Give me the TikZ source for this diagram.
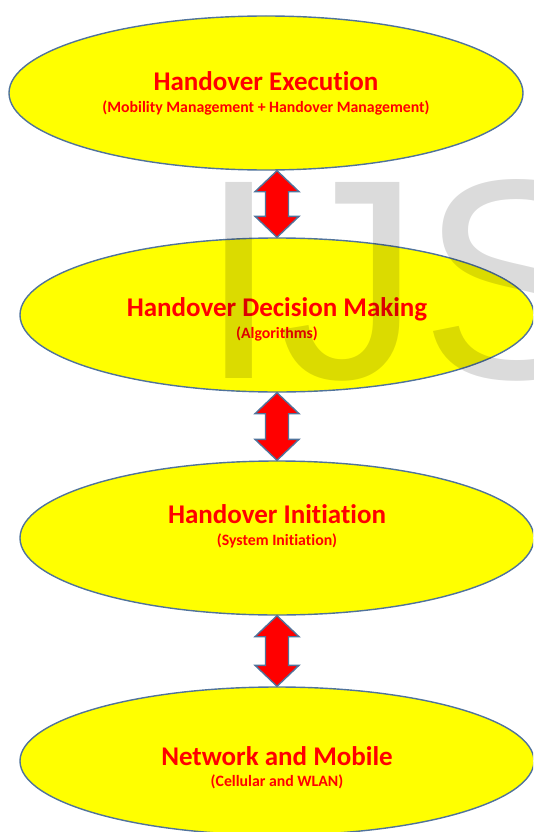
\documentclass[tikz,border=0pt]{standalone}
\usepackage{fontspec}
\setmainfont{Carlito}[Ligatures=NoCommon]
\newfontfamily\wmfont{Liberation Sans}
\usetikzlibrary{shapes.geometric,calc}
\definecolor{fillyellow}{RGB}{255,255,0}
\definecolor{edgeblue}{RGB}{80,115,155}
\definecolor{textred}{RGB}{255,0,0}

% two-headed block arrow between the bottom of #1 and the top of #2
\newcommand\duplexarrow[2]{%
  \path[link] let \p1=(#1.south), \p2=(#2.north) in
    (\x2,\y1) -- (\x2+22pt,\y1-21pt) -- (\x2+11.5pt,\y1-21pt)
    -- (\x2+11.5pt,\y2+21pt) -- (\x2+22pt,\y2+21pt) -- (\x2,\y2)
    -- (\x2-22pt,\y2+21pt) -- (\x2-11.5pt,\y2+21pt)
    -- (\x2-11.5pt,\y1-21pt) -- (\x2-22pt,\y1-21pt) -- cycle;}

\begin{document}
\begin{tikzpicture}[x=1pt,y=-1pt,
  stage/.style={ellipse, draw=edgeblue, line width=1.4pt, fill=fillyellow,
    minimum width=514pt, minimum height=154pt, inner sep=0pt},
  title/.style={anchor=base, text=textred, inner sep=0pt,
    font=\bfseries\fontsize{27}{27}\selectfont},
  subtitle/.style={anchor=base, text=textred, inner sep=0pt,
    font=\bfseries\fontsize{15.8}{15.8}\selectfont},
  link/.style={draw=edgeblue, line width=1.4pt, fill=textred, line join=miter}]
\useasboundingbox (0,0) rectangle (533,832);
\begin{scope}
\clip (0,0) rectangle (533,832);

% the four layers
\node[stage] (exec) at (266,93) {};
\node[stage] (decide) at (277,315) {};
\node[stage] (init) at (277,538) {};
\node[stage, minimum height=148pt] (net) at (277,761) {};

% links between layers
\duplexarrow{exec}{decide}
\duplexarrow{decide}{init}
\duplexarrow{init}{net}

% labels
\node[title] (execT) at (266,91) {Handover Execution};
\node[subtitle] (execS) at (266,113) {(Mobility Management + Handover Management)};
\node[title] (decideT) at (277,316) {Handover Decision Making};
\node[subtitle] (decideS) at (277,338) {(Algorithms)};
\node[title] (initT) at (277,523) {Handover Initiation};
\node[subtitle] (initS) at (277,545) {(System Initiation)};
\node[title] (netT) at (277,765) {Network and Mobile};
\node[subtitle] (netS) at (277,786) {(Cellular and WLAN)};

% watermark
\node[anchor=base west, inner sep=0pt, text=black, text opacity=0.14,
  font=\wmfont\fontsize{285}{285}\selectfont] (mark) at (199,378) {IJS};
\end{scope}
\end{tikzpicture}
\end{document}
